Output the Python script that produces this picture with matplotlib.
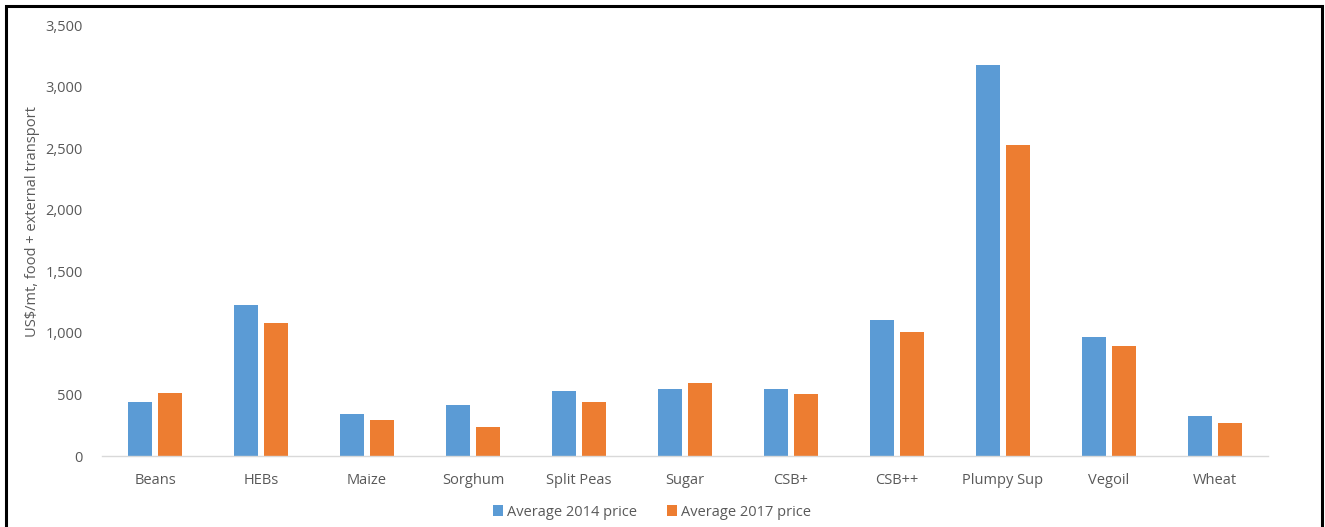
import matplotlib
matplotlib.use("Agg")
import matplotlib.pyplot as plt
from matplotlib.patches import Rectangle
import numpy as np

categories = ["Beans", "HEBs", "Maize", "Sorghum", "Split Peas", "Sugar",
              "CSB+", "CSB++", "Plumpy Sup", "Vegoil", "Wheat"]
price_2014 = [440, 1228, 339, 412, 531, 545, 547, 1106, 3179, 965, 328]
price_2017 = [514, 1084, 293, 236, 437, 591, 507, 1011, 2526, 897, 266]
series_labels = ["Average 2014 price", "Average 2017 price"]
y_ticks = [0, 500, 1000, 1500, 2000, 2500, 3000, 3500]

BLUE = "#5B9BD5"
ORANGE = "#ED7D31"
TEXT = "#595959"

plt.rcParams["font.family"] = ["Open Sans", "DejaVu Sans"]

W, H = 1325, 527
fig = plt.figure(figsize=(W / 100, H / 100), dpi=100)
ax = fig.add_axes([102 / W, 1 - 456 / H, (1268 - 102) / W, (456 - 25.5) / H])

x = np.arange(len(categories))
bw = 0.225
off = 0.142
ax.bar(x - off, price_2014, bw, color=BLUE, label=series_labels[0], zorder=2)
ax.bar(x + off, price_2017, bw, color=ORANGE, label=series_labels[1], zorder=2)

ax.set_xlim(-0.5, len(categories) - 0.5)
ax.set_ylim(0, 3500)
ax.set_yticks(y_ticks)
ax.set_yticklabels([f"{v:,}" for v in y_ticks])
ax.set_xticks(x)
ax.set_xticklabels(categories)
ax.tick_params(axis="both", length=0, labelsize=10.5, colors=TEXT)
ax.tick_params(axis="y", pad=14)
ax.tick_params(axis="x", pad=12)

for s in ["top", "right", "left"]:
    ax.spines[s].set_visible(False)
ax.spines["bottom"].set_color("#D9D9D9")
ax.spines["bottom"].set_linewidth(1)

fig.text(33 / W, 1 - 222 / H, "US$/mt, food + external transport", rotation=90,
         ha="center", va="center", fontsize=10.5, color=TEXT)

leg = fig.legend(loc="center", bbox_to_anchor=(652 / W, 1 - 512 / H), ncol=2,
                 frameon=False, fontsize=10.5, handlelength=0.7, handleheight=0.7,
                 handletextpad=0.3, columnspacing=2.0)
for t in leg.get_texts():
    t.set_color(TEXT)

# outer frame
fig.patches.append(Rectangle((5.5 / W, -0.02), (1321.5 - 5.5) / W, 1 - 6 / H + 0.02,
                             transform=fig.transFigure, fill=False,
                             edgecolor="black", linewidth=2.2))

fig.savefig("out.png", dpi=100)
